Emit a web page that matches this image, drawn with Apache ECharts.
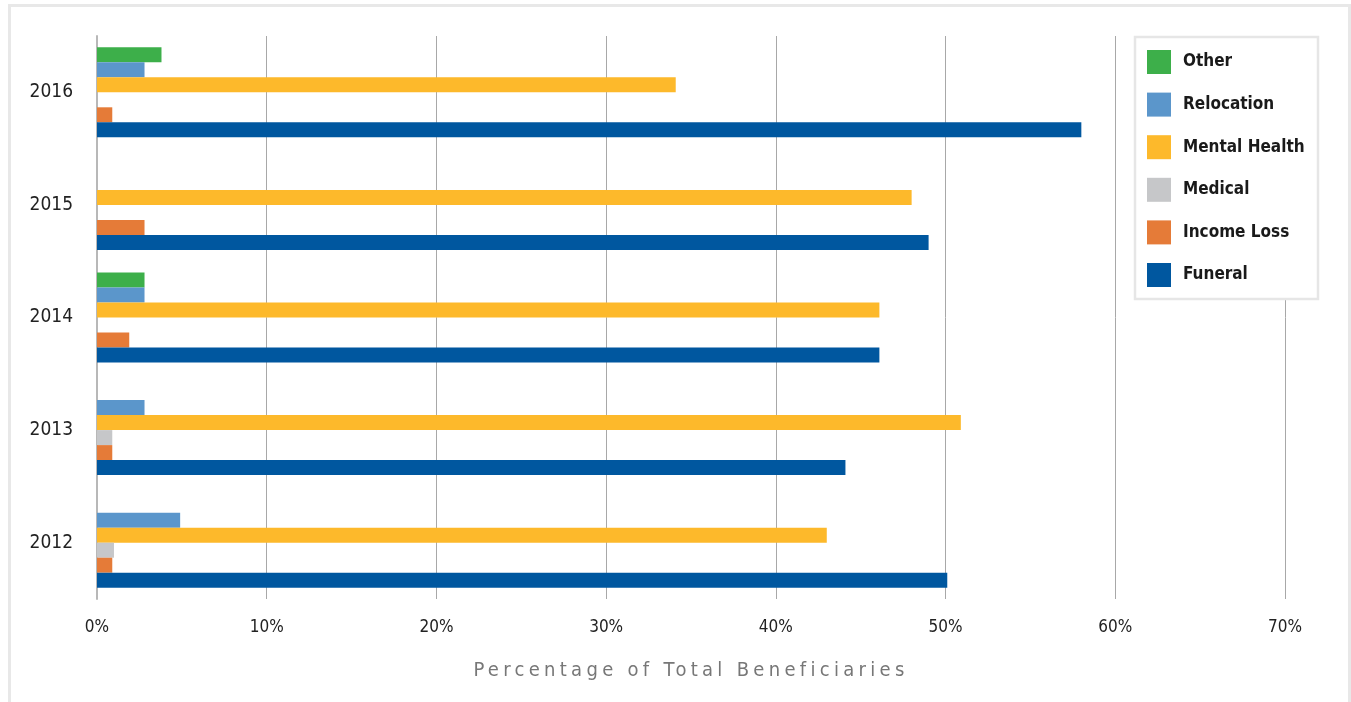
<!DOCTYPE html>
<html>
<head>
<meta charset="utf-8">
<script src="https://cdn.jsdelivr.net/npm/echarts@6/dist/echarts.min.js"></script>
<style>
  html, body { margin: 0; padding: 0; background: #fff; }
  #wrap { position: relative; width: 1351px; height: 702px; }
  #chart { width: 1351px; height: 702px; }
  #xname {
    position: absolute; left: 0; width: 1382px; top: 657px;
    text-align: center; font-family: 'DejaVu Sans Condensed', 'Roboto', sans-serif;
    font-size: 20px; letter-spacing: 4.3px; color: #777;
  }
</style>
</head>
<body>
<div id="wrap">
  <div id="chart"></div>
  <div id="xname">Percentage of Total Beneficiaries</div>
</div>
<script>
const years = ['2012', '2013', '2014', '2015', '2016']
const funeral = [50.1, 44.1, 46.1, 49.0, 58.0]
const incomeLoss = [0.9, 0.9, 1.9, 2.8, 0.9]
const medical = [1.0, 0.9, 0, 0, 0]
const mentalHealth = [43.0, 50.9, 46.1, 48.0, 34.1]
const relocation = [4.9, 2.8, 2.8, 0, 2.8]
const other = [0, 0, 2.8, 0, 3.8]
const xTicks = [0, 10, 20, 30, 40, 50, 60, 70]

const font = "'DejaVu Sans Condensed', 'Roboto', sans-serif"

// first series sits at the top of each band
const seriesDefs = [
  { name: 'Other', data: other, color: '#3daf4a' },
  { name: 'Relocation', data: relocation, color: '#5b96cb' },
  { name: 'Mental Health', data: mentalHealth, color: '#fdb92b' },
  { name: 'Medical', data: medical, color: '#c6c7c9' },
  { name: 'Income Loss', data: incomeLoss, color: '#e57b38' },
  { name: 'Funeral', data: funeral, color: '#00579f' },
]

const chart = echarts.init(document.getElementById('chart'), null, { renderer: 'canvas' })

chart.setOption({
  backgroundColor: '#fff',
  animation: false,
  graphic: [
    {
      type: 'rect', z: -1,
      shape: { x: 9.5, y: 5.5, width: 1340, height: 720 },
      style: { fill: 'none', stroke: '#e8e8e8', lineWidth: 3 },
    },
    {
      type: 'rect', z: 50,
      shape: { x: 1135, y: 37, width: 183, height: 262 },
      style: { fill: '#fff', stroke: '#e6e6e6', lineWidth: 2.5 },
    },
  ],
  legend: {
    z: 60,
    orient: 'vertical',
    left: 1135,
    top: 37,
    padding: [13, 12],
    itemWidth: 24,
    itemHeight: 24,
    itemGap: 18.6,
    icon: 'rect',
    data: seriesDefs.map((s) => s.name),
    textStyle: { fontFamily: font, fontWeight: 'bold', fontSize: 17, color: '#1a1a1a', padding: [0, 0, 0, 7] },
  },
  grid: { left: 97, right: 66, top: 36, bottom: 103, containLabel: false },
  xAxis: {
    type: 'value',
    min: xTicks[0],
    max: xTicks[xTicks.length - 1],
    interval: 10,
    axisLine: { show: false },
    axisTick: { show: false },
    axisLabel: {
      margin: 20,
      fontFamily: font, fontSize: 17, color: '#222',
      formatter: (v) => `${v}%`,
    },
    splitLine: { lineStyle: { color: '#a8a8a8', width: 1 } },
  },
  yAxis: {
    type: 'category',
    data: years,
    axisLine: { show: true, lineStyle: { color: '#b8b8b8', width: 2 } },
    axisTick: { show: false },
    axisLabel: { margin: 24, fontFamily: font, fontSize: 19, color: '#222' },
  },
  series: seriesDefs.map((s) => ({
    name: s.name,
    type: 'bar',
    data: s.data,
    barWidth: 15,
    barGap: '0%',
    itemStyle: { color: s.color },
  })),
})
</script>
</body>
</html>
